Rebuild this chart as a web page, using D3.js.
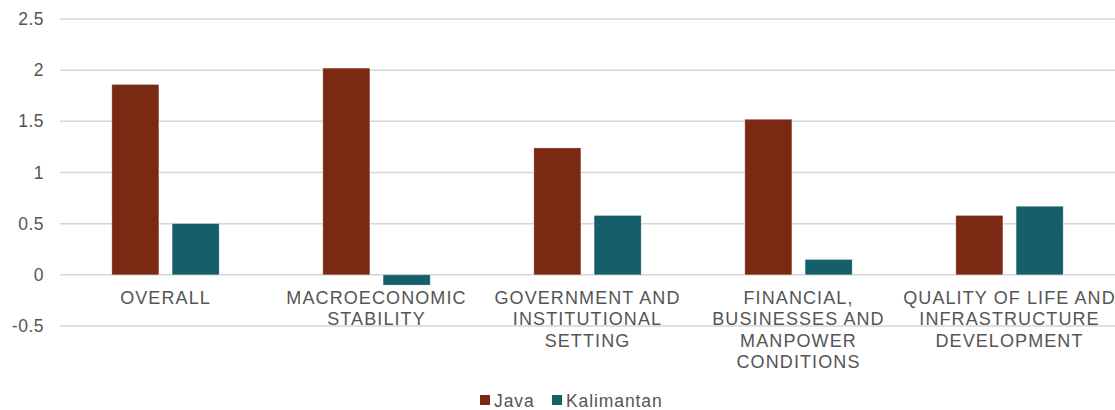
<!DOCTYPE html>
<html>
<head>
<meta charset="utf-8">
<script src="https://cdn.jsdelivr.net/npm/d3@7"></script>
<style>
  html, body { margin: 0; padding: 0; background: #fff; }
  svg { display: block; }
  text { font-family: "Liberation Sans", Arial, sans-serif; fill: #555555; }
</style>
</head>
<body>
<svg id="chart" width="1115" height="410"></svg>
<script>
// Competitiveness sub-index scores by region
const categories = [
  "OVERALL",
  "MACROECONOMIC\nSTABILITY",
  "GOVERNMENT AND\nINSTITUTIONAL\nSETTING",
  "FINANCIAL,\nBUSINESSES AND\nMANPOWER\nCONDITIONS",
  "QUALITY OF LIFE AND\nINFRASTRUCTURE\nDEVELOPMENT"
];
const seriesNames = ["Java", "Kalimantan"];
const java = [1.86, 2.02, 1.24, 1.52, 0.58];
const kalimantan = [0.50, -0.10, 0.58, 0.15, 0.67];
const yTicks = [-0.5, 0, 0.5, 1, 1.5, 2, 2.5];
const colors = ["#7A2912", "#145F6A"];

const svg = d3.select("#chart");
const plot = { left: 60, right: 1115, top: 19, bottom: 326 };

const x0 = d3.scaleBand()
  .domain(categories)
  .range([plot.left, plot.right])
  .paddingInner(0).paddingOuter(0);

const x1 = d3.scaleBand()
  .domain(seriesNames)
  .range([0, x0.bandwidth()])
  .paddingInner(0.22).paddingOuter(0.86);

const y = d3.scaleLinear()
  .domain([-0.5, 2.5])
  .range([plot.bottom, plot.top]);

const color = d3.scaleOrdinal().domain(seriesNames).range(colors);

// Horizontal gridlines
svg.append("g")
  .selectAll("line")
  .data(yTicks)
  .join("line")
  .attr("x1", plot.left).attr("x2", plot.right)
  .attr("y1", d => y(d)).attr("y2", d => y(d))
  .attr("stroke", "#d6d6d6")
  .attr("stroke-width", 1.5);

// Y-axis labels (plain hyphen for negatives)
const yAxis = d3.axisLeft(y)
  .tickValues(yTicks)
  .tickSize(0).tickPadding(0)
  .tickFormat(d => String(d));
const yg = svg.append("g")
  .attr("transform", `translate(${44},0)`)
  .call(yAxis);
yg.select(".domain").remove();
yg.selectAll("text")
  .attr("font-size", 17.5)
  .attr("letter-spacing", 0.5)
  .attr("font-family", "Liberation Sans, Arial, sans-serif")
  .attr("fill", "#555555");

// Bars
const rows = categories.map((c, i) => ({ cat: c, values: [java[i], kalimantan[i]] }));
const groups = svg.append("g")
  .selectAll("g")
  .data(rows)
  .join("g")
  .attr("transform", d => `translate(${x0(d.cat)},0)`);

groups.selectAll("rect")
  .data(d => seriesNames.map((s, j) => ({ key: s, value: d.values[j] })))
  .join("rect")
  .attr("x", d => x1(d.key))
  .attr("width", x1.bandwidth())
  .attr("y", d => y(Math.max(0, d.value)))
  .attr("height", d => Math.abs(y(d.value) - y(0)))
  .attr("fill", d => color(d.key))
  .attr("stroke", "rgba(255,255,255,0.35)")
  .attr("stroke-width", 0.8);

// Category labels below the zero line
const catLabels = svg.append("g")
  .selectAll("text")
  .data(categories)
  .join("text")
  .attr("text-anchor", "middle")
  .attr("font-size", 18)
  .attr("letter-spacing", 1.1)
  .attr("x", d => x0(d) + x0.bandwidth() / 2)
  .attr("y", 303.5);

catLabels.selectAll("tspan")
  .data(d => d.split("\n"))
  .join("tspan")
  .attr("x", function () { return d3.select(this.parentNode).attr("x"); })
  .attr("dy", (d, i) => i === 0 ? 0 : 21.6)
  .text(d => d);

// Legend
const legendItems = [
  { name: seriesNames[0], sx: 480, tx: 494 },
  { name: seriesNames[1], sx: 552, tx: 566 }
];
const legend = svg.append("g");
legend.selectAll("rect")
  .data(legendItems)
  .join("rect")
  .attr("x", d => d.sx).attr("y", 395)
  .attr("width", 10).attr("height", 10)
  .attr("fill", d => color(d.name));
legend.selectAll("text")
  .data(legendItems)
  .join("text")
  .attr("x", d => d.tx).attr("y", 406.5)
  .attr("font-size", 17.5)
  .attr("letter-spacing", 0.9)
  .text(d => d.name);
</script>
</body>
</html>
